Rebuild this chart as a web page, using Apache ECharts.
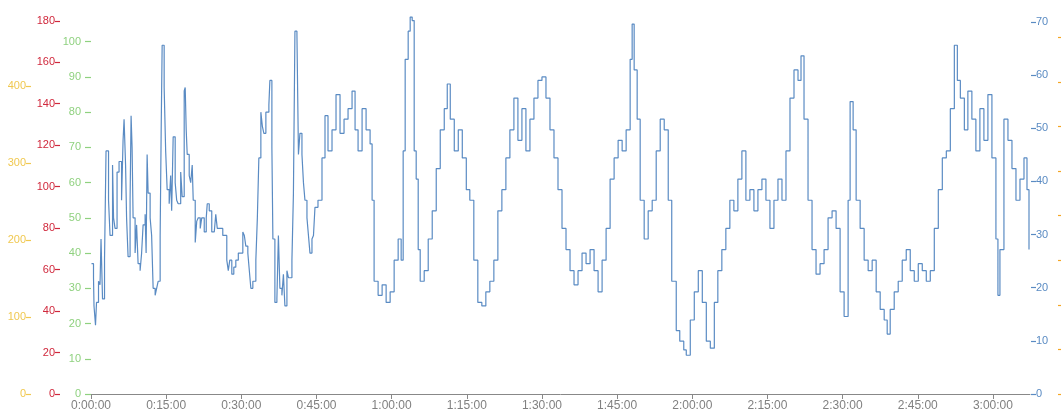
<!DOCTYPE html>
<html>
<head>
<meta charset="utf-8">
<script src="https://cdn.jsdelivr.net/npm/echarts@6/dist/echarts.min.js"></script>
<style>
html,body{margin:0;padding:0;background:#fff;}
#chart{width:1061px;height:419px;}
</style>
</head>
<body>
<div id="chart"></div>
<script>
// elapsed time in minutes
const minutes = [0.1,0.5,0.6,0.9,1.1,1.5,1.8,2.0,2.3,2.7,3.0,3.5,3.8,4.3,4.5,4.8,5.2,5.6,6.1,6.4,6.6,6.9,7.1,7.4,7.8,8.0,8.2,8.4,8.8,9.1,9.4,9.8,10.1,10.4,10.8,11.0,11.2,11.4,11.8,12.1,12.4,12.8,13.1,13.4,13.8,14.0,14.2,14.6,14.9,15.2,15.6,15.9,16.1,16.4,16.8,17.1,17.4,17.9,18.2,18.6,18.8,19.0,19.2,19.6,19.9,20.2,20.4,20.8,21.1,21.4,21.8,22.1,22.6,23.0,23.2,23.6,24.1,24.6,24.9,25.2,25.7,26.3,26.7,27.1,27.4,27.7,28.1,28.5,28.9,29.4,29.9,30.3,30.6,30.9,31.3,31.6,31.9,32.3,32.6,32.9,33.2,33.5,33.9,34.2,34.5,34.9,35.2,35.5,35.7,36.1,36.3,36.7,37.1,37.4,37.7,38.1,38.4,38.7,39.1,39.4,39.7,40.1,40.4,40.7,41.1,41.4,41.7,42.1,42.4,42.7,43.1,43.4,43.7,44.1,44.4,44.7,45.0,
45.3,46.1,46.7,47.3,48.1,48.9,49.7,50.5,51.3,52.1,52.7,53.3,54.1,54.9,55.7,56.1,56.5,57.3,58.1,58.9,59.7,60.5,61.3,61.9,62.3,62.7,63.3,63.7,64.1,64.5,64.9,65.3,65.7,66.5,67.3,68.1,68.9,69.7,70.5,71.1,71.7,72.5,73.3,74.1,74.9,75.6,76.4,77.2,78.0,78.8,79.6,80.4,81.2,82.0,82.8,83.6,84.4,85.2,86.0,86.8,87.6,88.4,89.2,90.0,90.8,91.6,92.4,93.2,94.0,94.8,95.6,96.4,97.2,98.0,98.8,99.6,100.4,101.2,102.0,102.8,103.6,104.4,105.2,106.0,106.8,107.6,108.0,108.4,109.0,109.6,110.4,111.2,112.0,112.8,113.6,114.4,115.2,115.9,116.8,117.5,118.3,118.8,119.6,120.4,121.2,122.0,122.8,123.6,124.4,125.1,125.9,126.7,127.5,128.3,129.1,129.9,130.7,131.5,132.3,133.1,133.9,134.7,135.5,136.3,137.1,137.9,138.7,139.5,140.3,141.1,141.7,142.3,143.1,143.9,144.7,145.5,146.3,147.1,147.9,148.7,149.5,150.3,151.1,151.5,152.1,152.7,153.5,154.3,155.1,155.9,156.7,157.5,158.3,158.9,159.5,160.3,161.1,161.9,162.7,163.5,164.3,165.1,165.9,166.7,167.5,168.3,169.1,169.9,170.7,171.5,172.3,172.9,173.5,174.3,175.0,175.8,176.6,177.4,178.2,179.0,179.8,180.6,181.0,181.4,182.2,183.0,183.8,184.6,185.4,186.2,186.8,187.2];
// series values (read against the green 0-100 scale)
const values = [37,33,25,19.5,26,32,31,44,27,38,69,55,45,65,50,47,63,66,55,72,78,65,50,39,55,79,70,50,40,48,37,35,40,48,51,40,68,57,50,45,30,28,30,32,45,74,99,87,69,58,54,62,52,73,60,55,54,63,56,86,87,75,68,62,60,65,55,43,49,50,47,50,46,50,54,52,46,46,51,47,47,45,45,38,35,38,34,36,38,40,40,46,45,42,40,35,30,32,32,38,50,67,80,76,74,80,80,82,89,70,44,26,27,45,30,28,34,25,35,33,33,38,57,103,102,68,74,68,60,55,50,45,40,44,45,53,53,
55,67,79,69,75,85,74,78,81,86,75,69,81,75,71,55,32,28,31,26,29,38,44,38,69,95,103,107,106,69,61,41,32,35,44,52,64,75,81,88,78,69,75,67,58,55,38,26,25,29,32,38,52,58,67,75,84,72,81,69,78,84,89,90,84,75,67,58,47,41,35,31,35,40,37,41,35,29,38,47,61,67,72,69,75,95,105,92,78,55,44,52,55,69,78,75,55,32,18,15,12.5,11,21,29,35,26,15,13,26,35,41,47,55,52,61,69,55,58,52,58,61,55,47,55,61,55,69,84,92,89,96,78,55,41,34,37,41,50,52,47,29,22,55,83,75,55,47,38,35,38,29,24,21,17,24,29,32,38,41,35,32,37,35,32,35,47,58,67,69,81,99,89,84,75,86,78,69,81,72,85,67,44,28,41,78,72,64,55,61,67,58,41];

const greenTicks = [0,10,20,30,40,50,60,70,80,90,100];
const redTicks = [0,20,40,60,80,100,120,140,160,180];
const yellowTicks = [0,100,200,300,400];
const blueTicks = [0,10,20,30,40,50,60,70];
const orangeTicks = [0,1,2,3,4,5,6,7,8];
const timeTicks = [0,15,30,45,60,75,90,105,120,135,150,165,180];

function fmtTime(m){
  const s = Math.round(m*60);
  const h = Math.floor(s/3600), mm = Math.floor((s%3600)/60), ss = s%60;
  return h + ':' + String(mm).padStart(2,'0') + ':' + String(ss).padStart(2,'0');
}

const FONT = 'Liberation Sans, Arial, sans-serif';
function yAx(opts){
  return {
    type:'value', position:opts.pos, offset:opts.offset, min:0, max:opts.max,
    splitLine:{show:false}, axisLine:{show:false},
    axisTick:{show:true, length:opts.tickLen||6, customValues:opts.ticks, lineStyle:{color:opts.color, width:1.2}},
    axisLabel:{show:opts.label!==false, customValues:opts.ticks, margin:opts.margin||6, color:opts.color, fontSize:11, fontFamily:FONT},
  };
}

const chart = echarts.init(document.getElementById('chart'), null, {renderer:'canvas'});
chart.setOption({
  animation:false,
  backgroundColor:'#ffffff',
  grid:{left:91, right:31, top:16, bottom:25, containLabel:false},
  xAxis:{
    type:'value', min:0, max:187.4,
    axisLine:{show:true, lineStyle:{color:'#888888', width:1}},
    axisTick:{show:true, length:5, customValues:timeTicks, lineStyle:{color:'#888888'}},
    axisLabel:{customValues:timeTicks, formatter:fmtTime, color:'#808080', fontSize:12, fontFamily:FONT, margin:6},
    splitLine:{show:false}
  },
  yAxis:[
    yAx({pos:'left', offset:4, max:107.3, ticks:greenTicks, color:'#8fd17f', tickLen:6, margin:6}),
    yAx({pos:'left', offset:31, max:182.3, ticks:redTicks, color:'#d0283c', tickLen:5, margin:5}),
    yAx({pos:'left', offset:60, max:491.6, ticks:yellowTicks, color:'#f0c850', tickLen:5, margin:5}),
    yAx({pos:'right', offset:1, max:71.1, ticks:blueTicks, color:'#5a8bc3', tickLen:5, margin:5}),
    yAx({pos:'right', offset:28, max:8.48, ticks:orangeTicks, color:'#f5a623', tickLen:5, margin:5, label:false})
  ],
  series:[{
    type:'line', yAxisIndex:0, step:'end', symbol:'none', smooth:false,
    data: minutes.map((t,i)=>[t, values[i]]),
    lineStyle:{color:'#5a8bc3', width:1.2}
  }]
});
</script>
</body>
</html>
